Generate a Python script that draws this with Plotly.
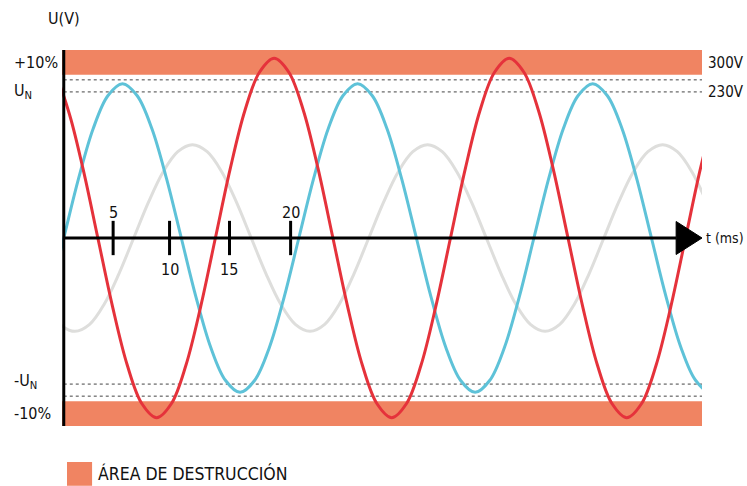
import plotly.graph_objects as go

# ---- data ----
blue_t = [-2.5, -1.25, 0, 1.25, 2.5, 3.75, 5, 6.25, 7.5, 8.75, 10, 11.25, 12.5, 13.75, 15,
          16.25, 17.5, 18.75, 20, 21.25, 22.5, 23.75, 25, 26.25, 27.5, 28.75, 30, 31.25,
          32.5, 33.75, 35, 36.25, 37.5, 38.75, 40, 41.25, 42.5, 43.75, 45, 46.25, 47.5,
          48.75, 50, 51.25, 52.5, 53.75, 55, 56.25, 57.5]
blue_v = [-172, -93,
          0, 93, 172, 224, 243, 224, 172, 93, 0, -93, -172, -224, -243, -224, -172, -93,
          0, 93, 172, 224, 243, 224, 172, 93, 0, -93, -172, -224, -243, -224, -172, -93,
          0, 93, 172, 224, 243, 224, 172, 93, 0, -93, -172, -224, -243, -224, -172]

red_t = [-2.1, -0.85, 0.4, 1.65, 2.9, 4.15, 5.4, 6.65, 7.9, 9.15, 10.4, 11.65, 12.9, 14.15,
         15.4, 16.65, 17.9, 19.15, 20.4, 21.65, 22.9, 24.15, 25.4, 26.65, 27.9, 29.15, 30.4,
         31.65, 32.9, 34.15, 35.4, 36.65, 37.9, 39.15, 40.4, 41.65, 42.9, 44.15, 45.4, 46.65,
         47.9, 49.15, 50.4, 51.65, 52.9, 54.15, 55.4]
red_v = [283, 261, 200, 108, 0, -108, -200, -261, -283, -261, -200, -108, 0, 108, 200, 261,
         283, 261, 200, 108, 0, -108, -200, -261, -283, -261, -200, -108, 0, 108, 200, 261,
         283, 261, 200, 108, 0, -108, -200, -261, -283, -261, -200, -108, 0, 108, 200]

gray_t = [-1.55, -0.3, 0.95, 2.2, 3.45, 4.7, 5.95, 7.2, 8.45, 9.7, 10.95, 12.2, 13.45, 14.7,
          15.95, 17.2, 18.45, 19.7, 20.95, 22.2, 23.45, 24.7, 25.95, 27.2, 28.45, 29.7, 30.95,
          32.2, 33.45, 34.7, 35.95, 37.2, 38.45, 39.7, 40.95, 42.2, 43.45, 44.7, 45.95, 47.2,
          48.45, 49.7, 50.95, 52.2, 53.45, 54.7, 55.95]
gray_v = [-104, -136, -147, -136, -104, -56, 0, 56, 104, 136,
          147, 136, 104, 56, 0, -56, -104, -136, -147, -136, -104, -56, 0, 56, 104, 136,
          147, 136, 104, 56, 0, -56, -104, -136, -147, -136, -104, -56, 0, 56, 104, 136,
          147, 136, 104, 56, 0]

tick_pos = [4.2, 9.0, 14.1, 19.3]
tick_labels = ["5", "10", "15", "20"]
tick_label_above = [True, False, False, True]

band_low, band_high = 257, 296      # destruction area (V)
dash_levels = [230, 249]            # U_N and +10 % lines (V)
un_label, pct_label = 230, 276

X_MIN, X_MAX = -0.15, 54.3
Y_MAX = 296

FONT = "DejaVu Sans Condensed, Liberation Sans Narrow, Roboto, sans-serif"
RED = "#E5323B"
BLUE = "#5EC2D8"
GRAY = "#DEDEDC"
SALMON = "#F08462"

fig = go.Figure()
for t, v, c in [(gray_t, gray_v, GRAY), (blue_t, blue_v, BLUE), (red_t, red_v, RED)]:
    fig.add_trace(go.Scatter(x=t, y=v, mode="lines", line=dict(color=c, width=3, shape="spline"),
                             hoverinfo="skip", showlegend=False))

shapes = []
for y0, y1 in [(band_low, band_high), (-band_high, -band_low)]:
    shapes.append(dict(type="rect", xref="x", yref="y", x0=X_MIN, x1=X_MAX, y0=y0, y1=y1,
                       fillcolor=SALMON, line=dict(width=0), layer="below"))
for lv in dash_levels:
    for s in (1, -1):
        shapes.append(dict(type="line", xref="x", yref="y", x0=0, x1=X_MAX, y0=s * lv, y1=s * lv,
                           line=dict(color="#444", width=1, dash="3px,3px"), layer="below"))
shapes.append(dict(type="line", xref="x", yref="y", x0=0, x1=0, y0=-Y_MAX, y1=Y_MAX,
                   line=dict(color="black", width=3), layer="above"))
arrow_len = 2.2
shapes.append(dict(type="line", xref="x", yref="y", x0=0, x1=X_MAX - arrow_len, y0=0, y1=0,
                   line=dict(color="black", width=3), layer="above"))
shapes.append(dict(type="path", xref="x", yref="y",
                   path=f"M {X_MAX - arrow_len},26 L {X_MAX},0 L {X_MAX - arrow_len},-26 Z",
                   fillcolor="black", line=dict(color="black", width=1), layer="above"))
for tp in tick_pos:
    shapes.append(dict(type="line", xref="x", yref="y", x0=tp, x1=tp, y0=-27, y1=27,
                       line=dict(color="black", width=3), layer="above"))
shapes.append(dict(type="rect", xref="paper", yref="paper", x0=0.0078, x1=0.047,
                   y0=-0.159, y1=-0.0957, fillcolor=SALMON, line=dict(width=0)))

ann = []
def txt(text, x, y, xref="paper", yref="y", xa="left", size=16):
    ann.append(dict(text=text, x=x, y=y, xref=xref, yref=yref, xanchor=xa, yanchor="middle",
                    showarrow=False, font=dict(family=FONT, size=size, color="#111")))

for tp, lab, above in zip(tick_pos, tick_labels, tick_label_above):
    txt(lab, tp, 40 if above else -49, xref="x", xa="center")

txt("+10%", -0.078, pct_label)
txt("U<sub>N</sub>", -0.078, un_label)
txt("-U<sub>N</sub>", -0.078, -un_label + 4)
txt("-10%", -0.078, -pct_label)
txt("300V", 1.068, pct_label, xa="right", size=15)
txt("230V", 1.068, un_label, xa="right", size=15)
txt("t (ms)", 1.068, 0, xa="right", size=14)
txt("U(V)", 0.003, 1.085, yref="paper", xa="center")
txt("ÁREA DE DESTRUCCIÓN", 0.053, -0.127, yref="paper", size=17.5)

fig.update_layout(
    width=747, height=486,
    margin=dict(l=62, r=45, t=50, b=60),
    paper_bgcolor="white", plot_bgcolor="white",
    xaxis=dict(range=[X_MIN, X_MAX], visible=False, fixedrange=True),
    yaxis=dict(range=[-Y_MAX, Y_MAX], visible=False, fixedrange=True),
    shapes=shapes, annotations=ann, showlegend=False,
)
fig.write_html("out.html", post_script="document.body.style.margin='0';",
               config={"displayModeBar": False})
